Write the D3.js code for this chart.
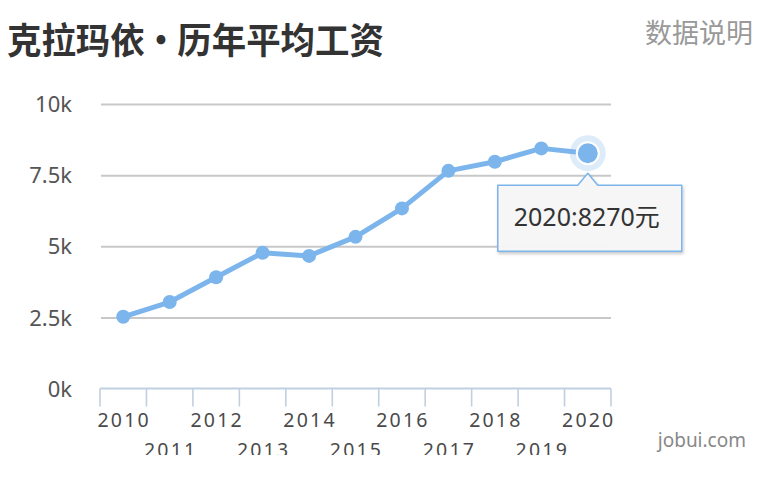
<!DOCTYPE html>
<html>
<head>
<meta charset="utf-8">
<script src="https://cdn.jsdelivr.net/npm/d3@7/dist/d3.min.js"></script>
<style>
  html, body { margin: 0; padding: 0; background: #fff; }
  svg { display: block; }
</style>
</head>
<body>
<svg id="chart" width="771" height="477"></svg>
<script>
const years = ["2010","2011","2012","2013","2014","2015","2016","2017","2018","2019","2020"];
const wages = [2520, 3040, 3910, 4770, 4660, 5330, 6330, 7650, 7970, 8440, 8270];
const yTicks = [0, 2500, 5000, 7500, 10000];
const yTickLabels = ["0k", "2.5k", "5k", "7.5k", "10k"];
const titleText = "克拉玛依 • 历年平均工资";
const noteText = "数据说明";
const sourceText = "jobui.com";
const highlightIndex = 10;
const unit = "元";

const svg = d3.select("#chart");
const color = "#7cb5ec";
const sans = "'Noto Sans', 'Noto Sans CJK SC', sans-serif";

const x = d3.scaleBand().domain(years).range([100, 611]).padding(0);
const y = d3.scaleLinear().domain([0, 10000]).range([388.5, 104]);

// Title
svg.append("text")
  .attr("transform", "translate(7,54) scale(0.97,1.02)")
  .attr("font-family", "'Noto Sans CJK SC', sans-serif")
  .attr("font-weight", 700)
  .attr("font-size", 35.5)
  .attr("word-spacing", -9)
  .attr("fill", "#333")
  .text(titleText);

svg.append("text")
  .attr("x", 753).attr("y", 43)
  .attr("text-anchor", "end")
  .attr("font-family", "'Noto Sans CJK SC', sans-serif")
  .attr("font-size", 27)
  .attr("fill", "#999")
  .text(noteText);

// Gridlines and y labels
const yAxis = d3.axisLeft(y)
  .tickValues(yTicks)
  .tickSize(-(611 - 101))
  .tickFormat((d, i) => yTickLabels[i]);

const gy = svg.append("g").attr("transform", "translate(101,0)").call(yAxis);
gy.select(".domain").remove();
gy.selectAll(".tick line").attr("stroke", "#c8c8c8").attr("stroke-width", 2)
  .filter(d => d === 0).remove();
gy.selectAll(".tick text")
  .attr("x", -29)
  .attr("dy", "0.35em")
  .attr("font-family", sans)
  .attr("font-size", 22)
  .attr("fill", "#555");

// X axis
const defs = svg.append("defs");
defs.append("clipPath").attr("id", "clipb")
  .append("rect").attr("x", 0).attr("y", 0).attr("width", 771).attr("height", 455);

const gx = svg.append("g").attr("clip-path", "url(#clipb)");
const [x0, x1] = x.range();
gx.append("line")
  .attr("x1", x0).attr("x2", x1)
  .attr("y1", y(0)).attr("y2", y(0))
  .attr("stroke", "#c0d0e0").attr("stroke-width", 2);
const boundaries = d3.range(years.length + 1).map(i => x0 + i * x.step());
gx.selectAll("line.tick").data(boundaries).join("line")
  .attr("class", "tick")
  .attr("x1", d => d).attr("x2", d => d)
  .attr("y1", y(0)).attr("y2", y(0) + 18)
  .attr("stroke", "#c0d0e0").attr("stroke-width", 1.6);
gx.selectAll("text.xl").data(years).join("text")
  .attr("class", "xl")
  .attr("x", d => x(d) + x.bandwidth() / 2 + 1)
  .attr("y", (d, i) => i % 2 === 0 ? 426.7 : 456.5)
  .attr("text-anchor", "middle")
  .attr("font-family", sans)
  .attr("font-size", 19.5)
  .attr("letter-spacing", 2.2)
  .attr("fill", "#4a4a4a")
  .text(d => d);

// Line
const cx = d => x(d) + x.bandwidth() / 2;
const line = d3.line().x((d, i) => cx(years[i])).y(d => y(d));
svg.append("path")
  .datum(wages)
  .attr("d", line)
  .attr("fill", "none")
  .attr("stroke", color)
  .attr("stroke-width", 5)
  .attr("stroke-linejoin", "round")
  .attr("stroke-linecap", "round");

svg.selectAll("circle.pt").data(wages).join("circle")
  .attr("class", "pt")
  .attr("cx", (d, i) => cx(years[i]))
  .attr("cy", d => y(d))
  .attr("r", 7)
  .attr("fill", color);

// Highlighted point
const hx = cx(years[highlightIndex]);
const hy = y(wages[highlightIndex]);
svg.append("circle").attr("cx", hx).attr("cy", hy).attr("r", 18)
  .attr("fill", color).attr("fill-opacity", 0.25);
svg.append("circle").attr("cx", hx).attr("cy", hy).attr("r", 11)
  .attr("fill", color).attr("stroke", "#fff").attr("stroke-width", 2);

// Source
svg.append("text")
  .attr("x", 746).attr("y", 446.7)
  .attr("text-anchor", "end")
  .attr("font-family", sans)
  .attr("font-size", 19)
  .attr("fill", "#888")
  .text(sourceText);

// Tooltip
const f = defs.append("filter").attr("id", "sh").attr("x", "-20%").attr("y", "-20%").attr("width", "140%").attr("height", "150%");
f.append("feDropShadow").attr("dx", 1).attr("dy", 2).attr("stdDeviation", 1.5).attr("flood-color", "#000").attr("flood-opacity", 0.22);

const bx = hx - 90, by = hy + 32, bw = 184, bh = 66;
const ax = hx, ay = hy + 20;
const tipPath = [
  [bx, by], [ax - 10, by], [ax, ay], [ax + 10, by], [bx + bw, by],
  [bx + bw, by + bh], [bx, by + bh]
];
svg.append("path")
  .attr("d", d3.line()(tipPath) + "Z")
  .attr("fill", "#f8f8f8")
  .attr("fill-opacity", 0.95)
  .attr("stroke", color)
  .attr("stroke-width", 1.5)
  .attr("stroke-linejoin", "round")
  .attr("filter", "url(#sh)");

svg.append("text")
  .attr("x", bx + 16).attr("y", by + 41)
  .attr("font-family", sans)
  .attr("font-size", 25)
  .attr("fill", "#333")
  .text(years[highlightIndex] + ":" + wages[highlightIndex] + unit);
</script>
</body>
</html>
